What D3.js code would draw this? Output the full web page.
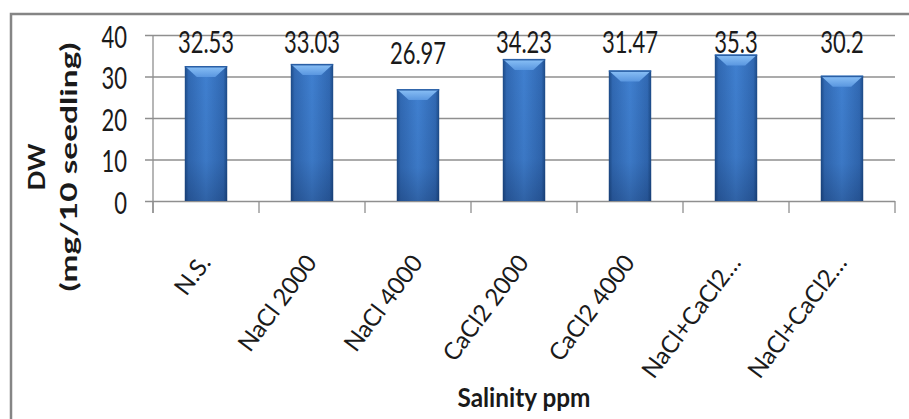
<!DOCTYPE html>
<html>
<head>
<meta charset="utf-8">
<script src="https://cdn.jsdelivr.net/npm/d3@7"></script>
<style>
  body { margin: 0; background: #fff; }
  svg { display: block; }
  text { font-family: Lato, "Open Sans", sans-serif; fill: #1a1a1a; }
</style>
</head>
<body>
<div id="chart"></div>
<script>
/***********************************************************************/
//Data
/***********************************************************************/
const categories = ['N.S.', 'NaCl 2000', 'NaCl 4000', 'CaCl2 2000', 'CaCl2 4000', 'NaCl+CaCl2…', 'NaCl+CaCl2…']
const values = [32.53, 33.03, 26.97, 34.23, 31.47, 35.3, 30.2]
const valueLabels = ['32.53', '33.03', '26.97', '34.23', '31.47', '35.3', '30.2']
const yTickValues = [0, 10, 20, 30, 40]
const yTitle = ['DW', '(mg/10 seedling)']
const xTitle = 'Salinity ppm'

/***********************************************************************/
//Plot Area
/***********************************************************************/
const width = 909
const height = 419
const stretch = 1.4
const plot = { left : 153, right : 895, top : 35, bottom : 201 }

const svg = d3.select('#chart')
	.append('svg')
	.attr('width', width)
	.attr('height', height)

// outer frame (cut at right and bottom)
svg.append('rect')
	.attr('x', 11)
	.attr('y', 14)
	.attr('width', width + 20)
	.attr('height', height + 20)
	.attr('fill', 'none')
	.attr('stroke', '#858585')
	.attr('stroke-width', 2.5)

const defs = svg.append('defs')

const bodyGrad = defs.append('linearGradient')
	.attr('id', 'barBody')
	.attr('x1', 0).attr('x2', 1).attr('y1', 0).attr('y2', 0)
;[['0%', '#1c4a86'], ['9%', '#3169b3'], ['50%', '#4080d0'], ['91%', '#3169b3'], ['100%', '#1c4a86']]
	.forEach(([o, c]) => bodyGrad.append('stop').attr('offset', o).attr('stop-color', c))

const shadeGrad = defs.append('linearGradient')
	.attr('id', 'barShade')
	.attr('x1', 0).attr('x2', 0).attr('y1', 0).attr('y2', 1)
;[['0%', 'rgba(10,30,70,0)'], ['70%', 'rgba(10,30,70,0.08)'], ['100%', 'rgba(10,30,70,0.3)']]
	.forEach(([o, c]) => shadeGrad.append('stop').attr('offset', o).attr('stop-color', c))

const topGrad = defs.append('linearGradient')
	.attr('id', 'barTop')
	.attr('x1', 0).attr('x2', 0).attr('y1', 0).attr('y2', 1)
;[['0%', '#8cc2f7'], ['100%', '#5a97e0']]
	.forEach(([o, c]) => topGrad.append('stop').attr('offset', o).attr('stop-color', c))

/***********************************************************************/
//Scale
/***********************************************************************/
const xScale = d3.scaleBand()
	.domain(d3.range(categories.length))
	.range([plot.left, plot.right])
	.paddingInner(0.6)
	.paddingOuter(0.3)

const yScale = d3.scaleLinear()
	.domain([0, 40])
	.range([plot.bottom, plot.top])

const step = xScale.step()
const bw = xScale.bandwidth()
const bandStart = i => xScale(i) - (step - bw) / 2

/***********************************************************************/
//Axes
/***********************************************************************/
const yAxisG = svg.append('g')
	.attr('transform', `translate(${plot.left - 8},0)`)
	.call(d3.axisLeft(yScale)
		.tickValues(yTickValues)
		.tickSize(-(plot.right - plot.left + 8))
		.tickPadding(18))

yAxisG.select('.domain').remove()
yAxisG.selectAll('.tick line')
	.attr('stroke', '#8f8f8f')
	.attr('stroke-width', 1.3)
yAxisG.selectAll('.tick text')
	.attr('dy', null)
	.attr('y', 0)
	.attr('font-size', 22)
	.attr('font-family', 'Lato, sans-serif')
	.attr('fill', '#1a1a1a')
	.attr('transform', `translate(0,12) scale(1,${stretch})`)

// vertical axis line
svg.append('line')
	.attr('x1', plot.left).attr('x2', plot.left)
	.attr('y1', yScale(40)).attr('y2', plot.bottom + 12)
	.attr('stroke', '#8f8f8f')
	.attr('stroke-width', 1.3)

// category boundary ticks
svg.append('g')
	.selectAll('line')
	.data(d3.range(categories.length + 1))
	.join('line')
	.attr('x1', i => i < categories.length ? bandStart(i) : plot.right)
	.attr('x2', i => i < categories.length ? bandStart(i) : plot.right)
	.attr('y1', plot.bottom)
	.attr('y2', plot.bottom + 12)
	.attr('stroke', '#8f8f8f')
	.attr('stroke-width', 1.3)

/***********************************************************************/
// Plotting
/***********************************************************************/
const bars = svg.append('g')
	.selectAll('g')
	.data(values)
	.join('g')

bars.append('rect')
	.attr('x', (d, i) => xScale(i))
	.attr('y', d => yScale(d))
	.attr('width', bw)
	.attr('height', d => yScale(0) - yScale(d))
	.attr('fill', 'url(#barBody)')

bars.append('rect')
	.attr('x', (d, i) => xScale(i))
	.attr('y', d => yScale(d))
	.attr('width', bw)
	.attr('height', d => yScale(0) - yScale(d))
	.attr('fill', 'url(#barShade)')

const bev = 11
bars.append('path')
	.attr('d', (d, i) => {
		const x0 = xScale(i), x1 = x0 + bw, y0 = yScale(d)
		return `M${x0},${y0}L${x1},${y0}L${x1 - bev - 1},${y0 + bev}L${x0 + bev + 1},${y0 + bev}Z`
	})
	.attr('fill', 'url(#barTop)')

bars.append('rect')
	.attr('x', (d, i) => xScale(i))
	.attr('y', d => yScale(d))
	.attr('width', bw)
	.attr('height', 1.5)
	.attr('fill', '#2a5fa5')

// value labels, clipped at top of plot like the original
bars.append('text')
	.attr('text-anchor', 'middle')
	.attr('font-size', 22)
	.attr('transform', (d, i) => {
		const y = Math.max(yScale(d) - 25, plot.top + 18)
		return `translate(${xScale(i) + bw / 2},${y}) scale(1,${stretch})`
	})
	.text((d, i) => valueLabels[i])

// category labels
svg.append('g')
	.selectAll('text')
	.data(categories)
	.join('text')
	.attr('text-anchor', 'end')
	.attr('font-size', 24)
	.attr('transform', (d, i) => `translate(${xScale(i) + bw / 2 + 6},${plot.bottom + 62}) rotate(-53)`)
	.text(d => d)

// axis titles
svg.append('text')
	.attr('text-anchor', 'middle')
	.attr('font-size', 21)
	.attr('font-weight', 'bold')
	.attr('textLength', 133)
	.attr('lengthAdjust', 'spacingAndGlyphs')
	.attr('transform', `translate(${(plot.left + plot.right) / 2},407) scale(1,1.3)`)
	.text(xTitle)

const yTitleG = svg.append('g')
	.attr('transform', 'translate(0,167)')

yTitleG.selectAll('text')
	.data(yTitle)
	.join('text')
	.attr('text-anchor', 'middle')
	.attr('font-size', 23)
	.attr('font-weight', 'bold')
	.attr('textLength', (d, i) => i === 0 ? 47 : 249)
	.attr('lengthAdjust', 'spacingAndGlyphs')
	.attr('transform', (d, i) => `translate(${i === 0 ? 45 : 77},0) rotate(-90)`)
	.text(d => d)
</script>
</body>
</html>
